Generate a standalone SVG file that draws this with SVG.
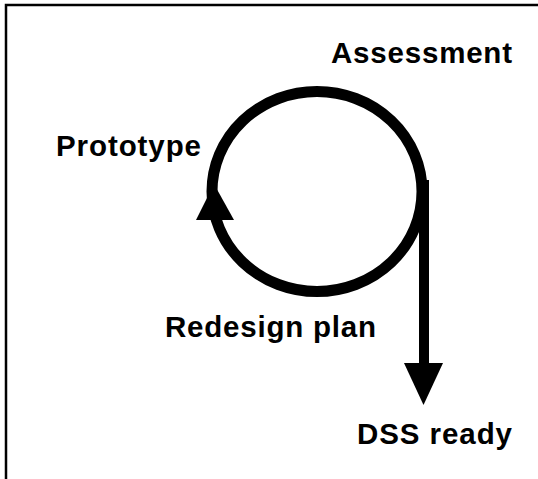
<svg xmlns="http://www.w3.org/2000/svg" width="538" height="479" viewBox="0 0 538 479">
<style>
.lbl{font-family:"Liberation Sans",Arial,sans-serif;font-weight:bold;font-size:29.5px;fill:#000}
.ln{fill:none;stroke:#000}
</style>
<rect width="538" height="479" fill="#fff"/>
<path class="ln" d="M6,479 V5 H538" stroke-width="2.5"/>
<g id="connectors">
<ellipse class="ln" cx="317" cy="191.5" rx="105" ry="100" stroke-width="11"/>
<path class="ln" d="M424,180 V366" stroke-width="10"/>
<polygon points="404,363 443,363 423.5,405" fill="#000"/>
<polygon points="196,220 234,220 214,184" fill="#000"/>
</g>
<g id="assessment"><text class="lbl" x="331" y="63" textLength="181" lengthAdjust="spacing">Assessment</text></g>
<g id="prototype"><text class="lbl" x="56" y="156" textLength="145" lengthAdjust="spacing">Prototype</text></g>
<g id="redesign"><text class="lbl" x="165" y="337" textLength="211" lengthAdjust="spacing">Redesign plan</text></g>
<g id="dss"><text class="lbl" x="357" y="444" textLength="155" lengthAdjust="spacing">DSS ready</text></g>
</svg>
